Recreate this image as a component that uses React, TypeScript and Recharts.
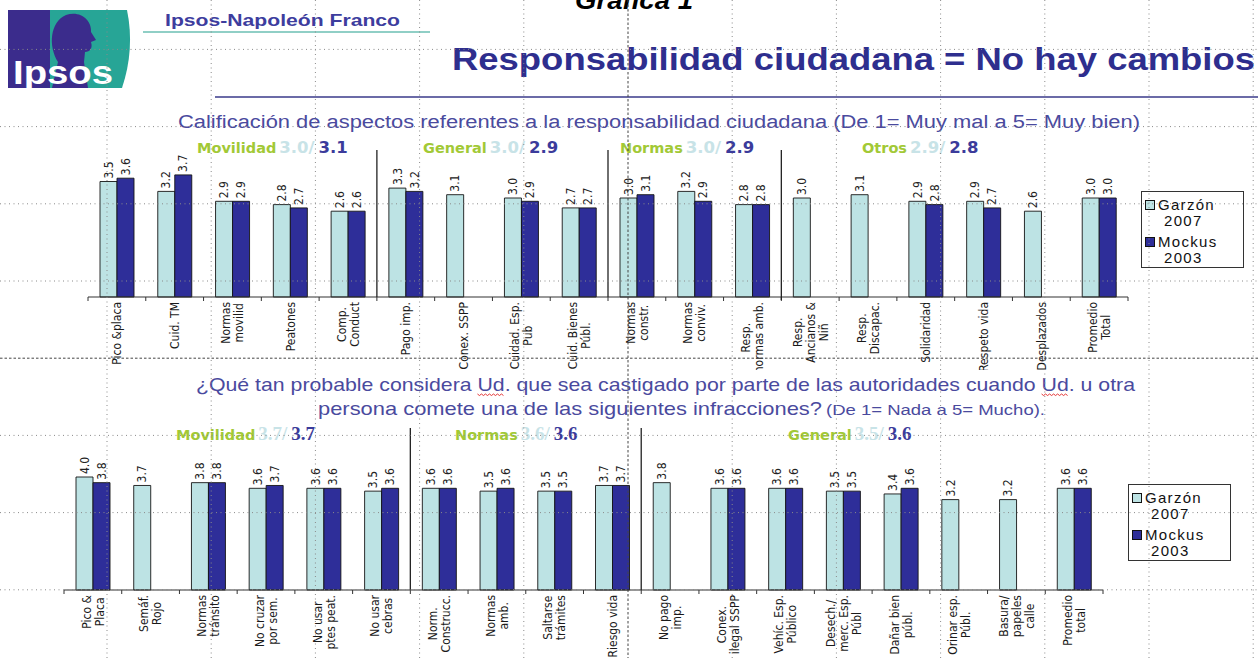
import React from 'react';
import { BarChart, Bar, XAxis, YAxis, LabelList, Legend } from 'recharts';

const W = 1258;
const H = 658;

const seriesNames = ['Garzón\n2007', 'Mockus\n2003'];
const seriesColors = ['#bde3e4', '#2e2e99'];

const topCategories = [
  'Pico &placa', 'Cuid. TM', 'Normas\nmovilid', 'Peatones', 'Comp.\nConduct', 'Pago imp.', 'Conex. SSPP',
  'Cuidad. Esp.\nPub', 'Cuid. Bienes\nPúbl.', 'Normas\nconstr.', 'Normas\nconviv.', 'Resp.\nnormas amb.',
  'Resp.\nAncianos &\nNiñ', 'Resp.\nDiscapac.', 'Solidaridad', 'Respeto vida', 'Desplazados', 'Promedio\nTotal',
];
const topGarzon = [3.5, 3.2, 2.9, 2.8, 2.6, 3.3, 3.1, 3.0, 2.7, 3.0, 3.2, 2.8, 3.0, 3.1, 2.9, 2.9, 2.6, 3.0];
const topMockus = [3.6, 3.7, 2.9, 2.7, 2.6, 3.2, null, 2.9, 2.7, 3.1, 2.9, 2.8, null, null, 2.8, 2.7, null, 3.0];
const topGroupNames = ['Movilidad', 'General', 'Normas', 'Otros'];
const topGroupGarzon = ['3.0/', '3.0/', '3.0/', '2.9/'];
const topGroupMockus = ['3.1', '2.9', '2.9', '2.8'];

const botCategories = [
  'Pico &\nPlaca', 'Semáf.\nRojo', 'Normas\ntránsito', 'No cruzar\npor sem.', 'No usar\nptes peat.', 'No usar\ncebras',
  'Norm.\nConstrucc.', 'Normas\namb.', 'Saltarse\ntrámites', 'Riesgo vida', 'No pago\nimp.', 'Conex.\nilegal SSPP',
  'Vehíc. Esp.\nPúblico', 'Desech./\nmerc. Esp.\nPúbl', 'Dañar bien\npúbl.', 'Orinar esp.\nPúbl.', 'Basura/\npapeles\ncalle',
  'Promedio\ntotal',
];
const botGarzon = [4.0, 3.7, 3.8, 3.6, 3.6, 3.5, 3.6, 3.5, 3.5, 3.7, 3.8, 3.6, 3.6, 3.5, 3.4, 3.2, 3.2, 3.6];
const botMockus = [3.8, null, 3.8, 3.7, 3.6, 3.6, 3.6, 3.6, 3.5, 3.7, null, 3.6, 3.6, 3.5, 3.6, null, null, 3.6];
const botGroupNames = ['Movilidad', 'Normas', 'General'];
const botGroupGarzon = ['3.7/', '3.6/', '3.5/'];
const botGroupMockus = ['3.7', '3.6', '3.6'];

const mainTitle = 'Responsabilidad ciudadana = No hay cambios';
const brandText = 'Ipsos-Napoleón Franco';
const topSubtitle = 'Calificación de aspectos referentes a la responsabilidad ciudadana (De 1= Muy mal a 5= Muy bien)';
const botSubtitle1 = '¿Qué tan probable considera Ud. que sea castigado por parte de las autoridades cuando Ud. u otra';
const botSubtitle2 = 'persona comete una de las siguientes infracciones?';
const botSubtitle3 = '(De 1= Nada a 5= Mucho).';
const spellMarked = ['¿Qué tan probable considera ', '¿Qué tan probable considera Ud. que sea castigado por parte de las autoridades cuando '];

const SANS = "'Liberation Sans', Arial, sans-serif";
const NARROW = "'Liberation Sans Narrow', 'Arial Narrow', 'DejaVu Sans Condensed', sans-serif";
const WIDE = "'DejaVu Sans', Verdana, sans-serif";
const SERIF = "'Liberation Serif', 'Times New Roman', serif";

const XH = 30;
const TOP_BOX = { top: 120, height: 250 };
const TOP_PLOT = { left: 88, right: 1128, top: 132, base: 297 };
const BOT_BOX = { top: 430, height: 228 };
const BOT_PLOT = { left: 64, right: 1103, top: 448.75, base: 590 };

let ctx: CanvasRenderingContext2D | null = null;
function measure(t: string, fs: number, family: string, weight = 'normal') {
  if (!ctx) ctx = document.createElement('canvas').getContext('2d');
  if (!ctx) return t.length * fs * 0.55;
  ctx.font = `${weight} ${fs}px ${family}`;
  return ctx.measureText(t).width;
}

const TICK_FS = 12;
const AxisTick = (props: any) => {
  const { x, y, payload } = props;
  const lines = String(payload.value).split('\n');
  const widths = lines.map((l) => measure(l, TICK_FS, NARROW));
  const maxW = Math.max(...widths);
  const centerY = y + 5 + maxW / 2;
  const lh = 13;
  return (
    <g>
      {lines.map((l, i) => {
        const bx = x + TICK_FS * 0.36 + (i - (lines.length - 1) / 2) * lh;
        return (
          <text key={i} transform={`translate(${bx},${centerY}) rotate(-90)`} textAnchor="middle"
            fontSize={TICK_FS} fontFamily={NARROW} fill="#1a1a1a">{l}</text>
        );
      })}
    </g>
  );
};

const ValueLabel = (props: any) => {
  const { x, y, width, value } = props;
  if (value === null || value === undefined) return null;
  const cx = Number(x) + Number(width) / 2;
  return (
    <text transform={`translate(${cx + 4.2},${Number(y) - 3}) rotate(-90)`} textAnchor="start"
      fontSize={12} fontFamily={NARROW} fill="#222">{Number(value).toFixed(1)}</text>
  );
};

const LegendBox = () => (
  <div style={{
    width: 103, height: 77, border: '1.5px solid #333', background: '#fff', boxSizing: 'border-box',
    padding: '5px 0 0 3px', fontFamily: SANS, fontSize: 15, letterSpacing: 1.3, color: '#111',
    lineHeight: '16px', textAlign: 'left',
  }}>
    {seriesNames.map((n, i) => {
      const [a, b] = n.split('\n');
      return (
        <div key={i} style={{ marginBottom: i === 0 ? 5 : 0 }}>
          <div style={{ display: 'flex', alignItems: 'center' }}>
            <span style={{ width: 8, height: 8, border: '1px solid #111', background: seriesColors[i], display: 'inline-block', marginRight: 3 }} />
            {a}
          </div>
          <div style={{ paddingLeft: 19 }}>{b}</div>
        </div>
      );
    })}
  </div>
);

function Chart(props: { cats: string[]; g: (number | null)[]; m: (number | null)[]; box: any; plot: any; legend: { x: number; y: number } }) {
  const { cats, g, m, box, plot, legend } = props;
  const data = cats.map((c, i) => ({ cat: c, g: g[i], m: m[i] }));
  const margin = {
    top: plot.top - box.top,
    left: plot.left,
    right: W - plot.right,
    bottom: box.top + box.height - plot.base - XH,
  };
  return (
    <div style={{ position: 'absolute', left: 0, top: box.top }}>
      <BarChart width={W} height={box.height} data={data} margin={margin} barGap={0} barSize={17}>
        <XAxis dataKey="cat" interval={0} tickLine={false} tickSize={0} tickMargin={0} height={XH}
          axisLine={{ stroke: '#333', strokeWidth: 1.2 }} tick={(p: any) => <AxisTick {...p} />} />
        <YAxis hide type="number" domain={[0, 5]} />
        <Bar dataKey="g" name={seriesNames[0]} fill={seriesColors[0]} stroke="#151515" strokeWidth={0.9} isAnimationActive={false}>
          <LabelList dataKey="g" content={(p: any) => <ValueLabel {...p} />} />
        </Bar>
        <Bar dataKey="m" name={seriesNames[1]} fill={seriesColors[1]} stroke="#151515" strokeWidth={0.9} isAnimationActive={false}>
          <LabelList dataKey="m" content={(p: any) => <ValueLabel {...p} />} />
        </Bar>
        <Legend layout="vertical" align="center" verticalAlign="middle" content={() => <LegendBox />}
          wrapperStyle={{ left: legend.x, top: legend.y - box.top, width: 103, height: 77 }} />
      </BarChart>
    </div>
  );
}

function GroupHeader(props: { x: number; y: number; name: string; gv: string; mv: string; serifNums?: boolean }) {
  const { x, y, name, gv, mv, serifNums } = props;
  const nameFs = 14.5;
  const nameW = measure(name, nameFs, WIDE, 'bold');
  const numFont = serifNums ? SERIF : WIDE;
  const numFs = serifNums ? 19 : 16.5;
  const gW = measure(gv, numFs, numFont, 'bold');
  return (
    <g>
      <text x={x} y={y} fontFamily={WIDE} fontWeight="bold" fontSize={nameFs} fill="#a2c936">{name}</text>
      <text x={x + nameW + 3} y={y} fontFamily={numFont} fontWeight="bold" fontSize={numFs} fill="#c8e3e7">{gv}</text>
      <text x={x + nameW + 3 + gW + 4} y={y} fontFamily={numFont} fontWeight="bold" fontSize={numFs} fill="#3b3b9b">{mv}</text>
    </g>
  );
}

function Logo() {
  return (
    <g>
      <rect x={8} y={10} width={80} height={78} fill="#3b2c8c" />
      <path d="M 50 10 L 127 10 Q 135 49 122 88 L 50 88 Z" fill="#27a596" />
      <path d="M 58 62 C 48 46 50 22 66 15 C 80 10 92 20 91 32 L 96 40 L 91 42 C 93 48 90 52 85 52 L 84 62 Z" fill="#3b2c8c" />
      <path d="M 58 62 L 84 62 L 88 88 L 52 88 Z" fill="#3b2c8c" />
      <text x={13} y={84} fontFamily={SANS} fontSize={34} fontWeight="bold" fill="#ffffff" textLength={100} lengthAdjust="spacingAndGlyphs">Ipsos</text>
    </g>
  );
}

function Squiggle(props: { x: number; y: number; w: number }) {
  const { x, y, w } = props;
  let d = `M ${x} ${y}`;
  for (let i = 1; i * 2 <= w; i++) d += ` L ${x + i * 2} ${y + (i % 2 === 1 ? 1.5 : 0)}`;
  return <path d={d} fill="none" stroke="#e02020" strokeWidth={0.9} />;
}

function Background() {
  const topHeaderX = [197, 423, 620, 862];
  const botHeaderX = [176, 455, 788];
  const sub1X = 196;
  const sub1W = 939;
  const sub1Fs = 19;
  const scale = sub1W / measure(botSubtitle1, sub1Fs, SANS);
  const udW = measure('Ud', sub1Fs, SANS) * scale;
  return (
    <svg width={W} height={H} style={{ position: 'absolute', left: 0, top: 0 }}>
      <rect x={0} y={0} width={W} height={H} fill="#ffffff" />
      <Logo />
      <text x={575} y={9} fontFamily={SANS} fontSize={25} fontStyle="italic" fontWeight="bold" fill="#000" textLength={118} lengthAdjust="spacingAndGlyphs">Gráfica 1</text>
      <text x={165} y={26} fontFamily={SANS} fontSize={17} fontWeight="bold" fill="#3d3d9e" textLength={235} lengthAdjust="spacingAndGlyphs">{brandText}</text>
      <line x1={143} y1={32} x2={430} y2={32} stroke="#6bbfb3" strokeWidth={1.5} />
      <text x={452} y={70} fontFamily={SANS} fontSize={32} fontWeight="bold" fill="#2e2e8e" textLength={803} lengthAdjust="spacingAndGlyphs">{mainTitle}</text>
      <line x1={215} y1={97} x2={W} y2={97} stroke="#3a3a8a" strokeWidth={1.5} />
      <text x={178} y={128} fontFamily={SANS} fontSize={18} fill="#4a4a9e" textLength={962} lengthAdjust="spacingAndGlyphs">{topSubtitle}</text>
      {topGroupNames.map((n, i) => (
        <GroupHeader key={n} x={topHeaderX[i]} y={153} name={n} gv={topGroupGarzon[i]} mv={topGroupMockus[i]} />
      ))}
      <text x={sub1X} y={391} fontFamily={SANS} fontSize={sub1Fs} fill="#4a4a9e" textLength={sub1W} lengthAdjust="spacingAndGlyphs">{botSubtitle1}</text>
      {spellMarked.map((p, i) => (
        <Squiggle key={i} x={sub1X + measure(p, sub1Fs, SANS) * scale} y={394} w={udW} />
      ))}
      <text x={318} y={415} fontFamily={SANS} fontSize={19} fill="#4a4a9e" textLength={504} lengthAdjust="spacingAndGlyphs">{botSubtitle2}</text>
      <text x={826} y={415} fontFamily={SANS} fontSize={14} fill="#4a4a9e" textLength={219} lengthAdjust="spacingAndGlyphs">{botSubtitle3}</text>
      {botGroupNames.map((n, i) => (
        <GroupHeader key={n} x={botHeaderX[i]} y={440} name={n} gv={botGroupGarzon[i]} mv={botGroupMockus[i]} serifNums />
      ))}
    </svg>
  );
}

function Overlay() {
  const vx: number[] = [];
  for (let k = 0; k < 12; k++) vx.push(107 + k * 104.2);
  const hy: number[] = [];
  for (let k = 0; k < 8; k++) hy.push(49.4 + k * 77.2);
  const topBand = (TOP_PLOT.right - TOP_PLOT.left) / topCategories.length;
  const botBand = (BOT_PLOT.right - BOT_PLOT.left) / botCategories.length;
  const topSeps = [5, 9, 12];
  const botSeps = [6, 10];
  return (
    <svg width={W} height={H} style={{ position: 'absolute', left: 0, top: 0, pointerEvents: 'none' }}>
      {Array.from({ length: topCategories.length + 1 }).map((_, k) => (
        <line key={'tt' + k} x1={TOP_PLOT.left + k * topBand} x2={TOP_PLOT.left + k * topBand} y1={TOP_PLOT.base} y2={TOP_PLOT.base + 4} stroke="#333" />
      ))}
      {Array.from({ length: botCategories.length + 1 }).map((_, k) => (
        <line key={'bt' + k} x1={BOT_PLOT.left + k * botBand} x2={BOT_PLOT.left + k * botBand} y1={BOT_PLOT.base} y2={BOT_PLOT.base + 4} stroke="#333" />
      ))}
      {topSeps.map((k) => (
        <line key={'ts' + k} x1={TOP_PLOT.left + k * topBand} x2={TOP_PLOT.left + k * topBand} y1={150} y2={TOP_PLOT.base + (k === 12 ? 3 : 0)} stroke="#222" strokeWidth={1.3} />
      ))}
      {botSeps.map((k) => (
        <line key={'bs' + k} x1={BOT_PLOT.left + k * botBand} x2={BOT_PLOT.left + k * botBand} y1={428} y2={BOT_PLOT.base} stroke="#222" strokeWidth={1.3} />
      ))}
      {vx.map((x, k) => (
        <line key={'v' + k} x1={x} x2={x} y1={0} y2={H} stroke={k === 5 ? '#444' : '#8a8a8a'} strokeWidth={1}
          strokeDasharray={k === 5 ? '2.5 2' : '1 3.5'} />
      ))}
      {hy.map((y, k) => (
        <line key={'h' + k} x1={0} x2={W} y1={y} y2={y} stroke={k === 4 ? '#444' : '#8a8a8a'} strokeWidth={1}
          strokeDasharray={k === 4 ? '2.5 2' : '1 3.5'} />
      ))}
    </svg>
  );
}

export default function App() {
  return (
    <div style={{ position: 'absolute', left: 0, top: 0, width: W, height: H, background: '#fff', overflow: 'hidden' }}>
      <Background />
      <Chart cats={topCategories} g={topGarzon} m={topMockus} box={TOP_BOX} plot={TOP_PLOT} legend={{ x: 1141, y: 191 }} />
      <Chart cats={botCategories} g={botGarzon} m={botMockus} box={BOT_BOX} plot={BOT_PLOT} legend={{ x: 1128, y: 484 }} />
      <Overlay />
    </div>
  );
}
